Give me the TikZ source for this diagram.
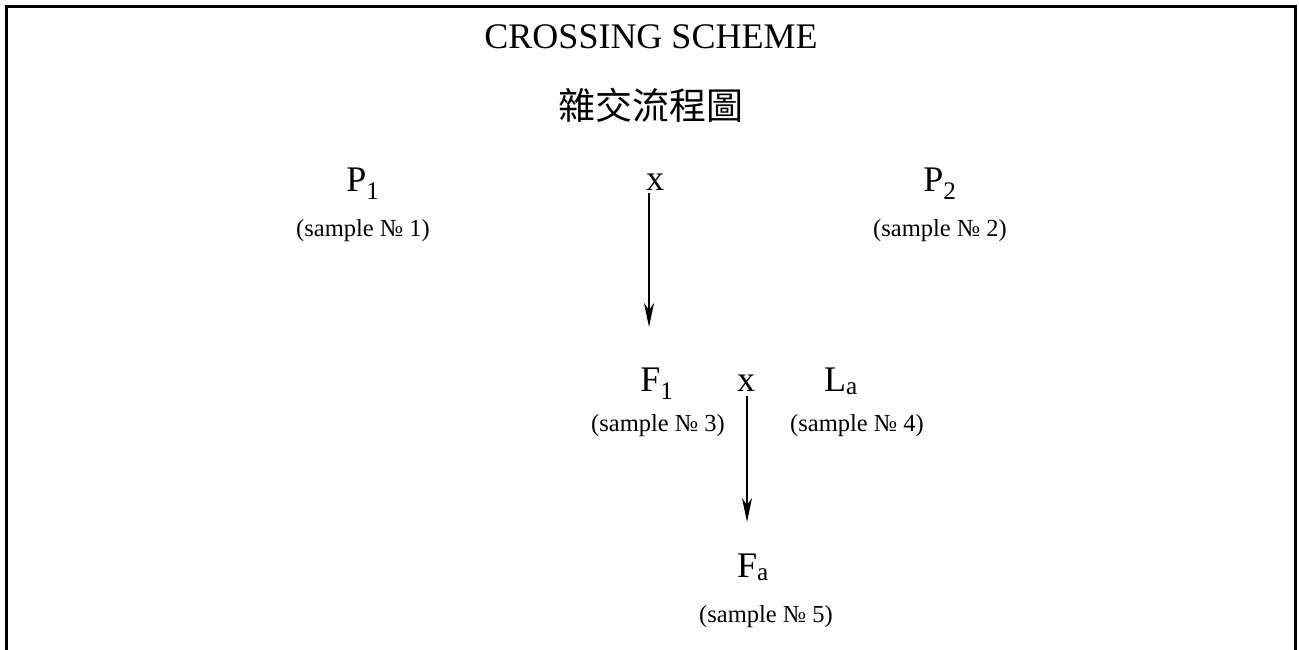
\documentclass[tikz,border=0pt]{standalone}
\usepackage{fontspec}
\setmainfont{Liberation Serif}
\newfontfamily\cjk{Noto Sans CJK TC}
\usetikzlibrary{arrows.meta}
\tikzset{
  big/.style={inner sep=0pt, anchor=base, font=\fontsize{36}{40}\selectfont},
  small/.style={inner sep=0pt, anchor=base, font=\fontsize{24.5}{28}\selectfont},
  cjktext/.style={inner sep=0pt, anchor=base, font=\cjk\fontsize{37}{42}\selectfont},
  cross/.style={-{Stealth[length=24pt,width=10pt,inset=7pt]}, line width=2pt},
  frame/.style={line width=2.5pt}
}
\begin{document}
\begin{tikzpicture}[x=1pt,y=-1pt]
\useasboundingbox (0,0) rectangle (1299,650);
\draw[frame] (6.5,680) -- (6.5,6.5) -- (1295.5,6.5) -- (1295.5,680);
\node[big] (title) at (651,49) {CROSSING SCHEME};
\node[cjktext] (sub) at (651,120) {雜交流程圖};
\node[big] (P1) at (363,191) {P\textsubscript{1}};
\node[small] (s1) at (363,236) {(sample № 1)};
\node[big] (x1) at (655,190) {x};
\node[big] (P2) at (940,191) {P\textsubscript{2}};
\node[small] (s2) at (940,236) {(sample № 2)};
\node[big] (F1) at (657,391) {F\textsubscript{1}};
\node[small] (s3) at (658,431) {(sample № 3)};
\node[big] (x2) at (746,391) {x};
\node[big] (La) at (841,391) {L\textsubscript{a}};
\node[small] (s4) at (857,431) {(sample № 4)};
\node[big] (Fa) at (753,577) {F\textsubscript{a}};
\node[small] (s5) at (766,622) {(sample № 5)};
\coordinate (a1s) at (649,193);
\coordinate (a1e) at (649,327);
\coordinate (a2s) at (747,396);
\coordinate (a2e) at (747,522);
\draw[cross] (a1s) -- (a1e);
\draw[cross] (a2s) -- (a2e);
\end{tikzpicture}
\end{document}
